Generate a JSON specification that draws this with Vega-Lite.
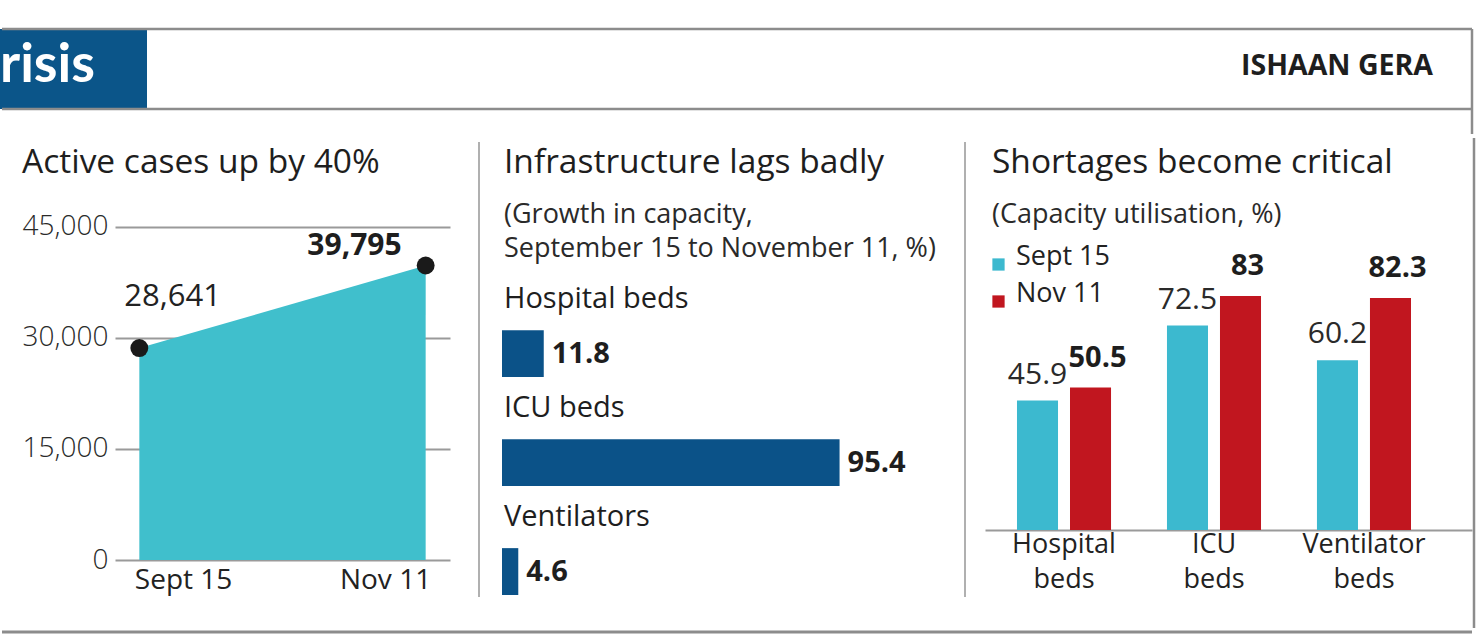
{
  "$schema": "https://vega.github.io/schema/vega-lite/v6.json",
  "padding": {"left": 0, "top": 27, "right": 0, "bottom": 0},
  "background": "white",
  "config": {
    "view": {"stroke": null},
    "font": "Open Sans",
    "title": {"anchor": "start", "frame": "group", "font": "Open Sans", "fontSize": 33.5, "fontWeight": 500, "color": "#1e1e1e", "subtitleFont": "Open Sans", "subtitleFontSize": 27, "subtitleColor": "#2a2a2a", "subtitleLineHeight": 34, "subtitlePadding": 22},
    "axis": {"labelFont": "Open Sans"},
    "legend": {"labelFont": "Open Sans"}
  },
  "spacing": 0,
  "resolve": {"scale": {"color": "independent"}, "legend": {"color": "independent"}},
  "vconcat": [
    {
      "width": 1357,
      "height": 105,
      "data": {"values": [{"tag": "risis", "author": "ISHAAN GERA"}]},
      "encoding": {
        "x": {"datum": 0, "type": "quantitative", "scale": {"domain": [115, 1472]}, "axis": null},
        "y": {"datum": 0, "type": "quantitative", "scale": {"domain": [0, 105], "reverse": true}, "axis": null}
      },
      "layer": [
        {"mark": {"type": "rect", "color": "#0b5589"}, "encoding": {"x": {"datum": 0, "type": "quantitative"}, "x2": {"datum": 147}, "y": {"datum": 0, "type": "quantitative"}, "y2": {"datum": 80}}},
        {"mark": {"type": "text", "align": "left", "baseline": "alphabetic", "fontSize": 54, "fontWeight": 700, "color": "white", "font": "Lato"}, "encoding": {"x": {"datum": 0, "type": "quantitative"}, "y": {"datum": 53, "type": "quantitative"}, "text": {"field": "tag"}}},
        {"mark": {"type": "text", "align": "right", "baseline": "alphabetic", "fontSize": 28.5, "fontWeight": 700, "color": "#1e1e1e", "font": "Open Sans"}, "encoding": {"x": {"datum": 1433, "type": "quantitative"}, "y": {"datum": 46, "type": "quantitative"}, "text": {"field": "author"}}},
        {"mark": {"type": "rule", "color": "#8c8c8c", "strokeWidth": 2.5}, "encoding": {"x": {"datum": 2, "type": "quantitative"}, "x2": {"datum": 1472}, "y": {"datum": 0, "type": "quantitative"}}},
        {"mark": {"type": "rule", "color": "#8c8c8c", "strokeWidth": 2.5}, "encoding": {"x": {"datum": 2, "type": "quantitative"}, "x2": {"datum": 1472}, "y": {"datum": 80, "type": "quantitative"}}},
        {"mark": {"type": "rule", "color": "#8c8c8c", "strokeWidth": 2.5}, "encoding": {"x": {"datum": 1472, "type": "quantitative"}, "y": null}}
      ]
    },
    {
      "spacing": 0,
      "resolve": {"scale": {"color": "independent"}, "legend": {"color": "independent"}},
      "hconcat": [
        {
          "width": 335,
          "height": 418,
          "title": {"text": "Active cases up by 40%", "frame": "bounds", "dx": 22, "offset": -38},
          "data": {"values": [{"date": "Sept 15", "cases": 28641}, {"date": "Nov 11", "cases": 39795}]},
          "encoding": {
            "x": {"field": "date", "type": "ordinal", "sort": null, "scale": {"type": "point", "padding": 0.085}, "axis": {"title": null, "domain": false, "ticks": false, "labelAngle": 0, "labelFontSize": 28, "labelColor": "#222", "labelPadding": 6, "labelFlush": 40, "labelFlushOffset": 5}},
            "y": {"field": "cases", "type": "quantitative", "scale": {"domain": [0, 56486], "nice": false}, "axis": {"title": null, "values": [0, 15000, 30000, 45000], "format": ",.0f", "domain": false, "ticks": false, "gridColor": "#9a9a9a", "gridWidth": 2, "labelFontSize": 28, "labelFontWeight": 300, "labelColor": "#2a2a2a", "labelPadding": 7, "minExtent": 115}}
          },
          "layer": [
            {"mark": {"type": "area", "color": "#40bfcc", "opacity": 1}},
            {"mark": {"type": "circle", "size": 320, "color": "#1a1a1a", "opacity": 1}},
            {"transform": [{"filter": "datum.date == 'Sept 15'"}], "mark": {"type": "text", "align": "left", "baseline": "middle", "dx": -15, "dy": -51, "fontSize": 31, "fontWeight": 400, "color": "#222"}, "encoding": {"text": {"field": "cases", "format": ","}}},
            {"transform": [{"filter": "datum.date == 'Nov 11'"}], "mark": {"type": "text", "align": "right", "baseline": "middle", "dx": -24, "dy": -20, "fontSize": 30, "fontWeight": 700, "color": "#1e1e1e"}, "encoding": {"text": {"field": "cases", "format": ","}}}
          ]
        },
        {
          "width": 52,
          "height": 455,
          "data": {"values": [{}]},
          "mark": {"type": "rule", "color": "#b0b0b0", "strokeWidth": 2},
          "encoding": {"x": {"datum": 29, "type": "quantitative", "scale": {"domain": [0, 52]}, "axis": null}}
        },
        {
          "width": 460,
          "height": 453,
          "title": {"text": "Infrastructure lags badly", "subtitle": ["(Growth in capacity,", "September 15 to November 11, %)"], "dx": 2, "offset": -121},
          "data": {"values": [{"item": "Hospital beds", "growth": 11.8}, {"item": "ICU beds", "growth": 95.4}, {"item": "Ventilators", "growth": 4.6}]},
          "encoding": {"y": {"field": "item", "type": "nominal", "sort": null, "scale": {"paddingInner": 0.57, "paddingOuter": 0.863, "align": 1}, "axis": null}},
          "layer": [
            {"mark": {"type": "bar", "color": "#0b5288"}, "encoding": {"x": {"field": "growth", "type": "quantitative", "scale": {"domain": [0, 122]}, "axis": null}}},
            {"mark": {"type": "text", "align": "left", "baseline": "middle", "dx": 8, "fontSize": 29, "fontWeight": 700, "color": "#1e1e1e"}, "encoding": {"x": {"field": "growth", "type": "quantitative"}, "text": {"field": "growth"}}},
            {"mark": {"type": "text", "align": "left", "baseline": "middle", "dx": 2, "dy": -55, "fontSize": 29, "fontWeight": 400, "color": "#1e1e1e"}, "encoding": {"x": {"datum": 0, "type": "quantitative"}, "text": {"field": "item"}}}
          ]
        },
        {
          "width": 23,
          "height": 455,
          "data": {"values": [{}]},
          "mark": {"type": "rule", "color": "#b0b0b0", "strokeWidth": 2},
          "encoding": {"x": {"datum": 3, "type": "quantitative", "scale": {"domain": [0, 23]}, "axis": null}}
        },
        {
          "width": 487,
          "height": 388,
          "title": {"text": "Shortages become critical", "subtitle": "(Capacity utilisation, %)", "dx": 7, "offset": -87},
          "data": {"values": [
            {"category": "Hospital beds", "period": "Sept 15", "value": 45.9},
            {"category": "Hospital beds", "period": "Nov 11", "value": 50.5},
            {"category": "ICU beds", "period": "Sept 15", "value": 72.5},
            {"category": "ICU beds", "period": "Nov 11", "value": 83},
            {"category": "Ventilator beds", "period": "Sept 15", "value": 60.2},
            {"category": "Ventilator beds", "period": "Nov 11", "value": 82.3}
          ]},
          "encoding": {
            "x": {"field": "category", "type": "nominal", "sort": null, "scale": {"paddingInner": 0.373, "paddingOuter": 0.31, "align": 0.344}, "axis": {"title": null, "labelAngle": 0, "ticks": false, "domainColor": "#9a9a9a", "domainWidth": 2, "labelFontSize": 27, "labelFontWeight": 400, "labelColor": "#222", "labelLineHeight": 35, "labelPadding": 1, "labelExpr": "split(datum.label, ' ')"}},
            "xOffset": {"field": "period", "type": "nominal", "sort": ["Sept 15", "Nov 11"], "scale": {"paddingInner": 0.226, "paddingOuter": 0}},
            "y": {"field": "value", "type": "quantitative", "scale": {"domain": [0, 137.6], "nice": false}, "axis": null}
          },
          "layer": [
            {"mark": {"type": "bar"}, "encoding": {"color": {"field": "period", "type": "nominal", "sort": ["Sept 15", "Nov 11"], "scale": {"domain": ["Sept 15", "Nov 11"], "range": ["#3cb9cf", "#c1161f"]}, "legend": {"title": null, "orient": "none", "legendX": 0, "legendY": 109, "padding": 0, "symbolType": "square", "symbolSize": 150, "symbolOpacity": 1, "labelFontSize": 27, "labelColor": "#222", "labelBaseline": "alphabetic", "rowPadding": 8, "labelOffset": 4}}}},
            {"transform": [{"filter": "datum.period == 'Sept 15'"}], "mark": {"type": "text", "baseline": "bottom", "dy": -11, "fontSize": 30, "fontWeight": 400, "color": "#2a2a2a"}, "encoding": {"text": {"field": "value"}}},
            {"transform": [{"filter": "datum.period == 'Nov 11'"}], "mark": {"type": "text", "baseline": "bottom", "dx": 7, "dy": -15, "fontSize": 29, "fontWeight": 700, "color": "#1e1e1e"}, "encoding": {"text": {"field": "value"}}}
          ]
        },
        {
          "width": 1,
          "height": 486,
          "data": {"values": [{}]},
          "mark": {"type": "rule", "color": "#8c8c8c", "strokeWidth": 2.5},
          "encoding": {
            "x": {"datum": -4, "type": "quantitative", "scale": {"domain": [0, 1]}, "axis": null},
            "y": {"datum": -4, "type": "quantitative", "scale": {"domain": [0, 486], "reverse": true}, "axis": null},
            "y2": {"datum": 486}
          }
        }
      ]
    },
    {
      "width": 1357,
      "height": 2,
      "data": {"values": [{}]},
      "mark": {"type": "rule", "color": "#8c8c8c", "strokeWidth": 3},
      "encoding": {
        "x": {"datum": 2, "type": "quantitative", "scale": {"domain": [115, 1472]}, "axis": null},
        "x2": {"datum": 1472},
        "y": {"datum": 0, "type": "quantitative", "scale": {"domain": [0, 2], "reverse": true}, "axis": null}
      }
    }
  ]
}
